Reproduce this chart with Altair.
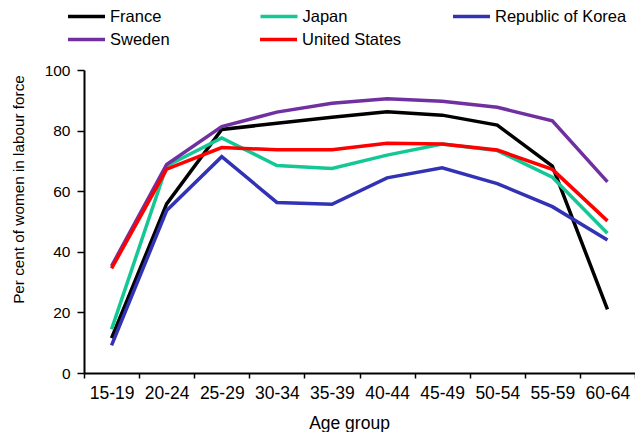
import altair as alt
import pandas as pd

ages = ["15-19", "20-24", "25-29", "30-34", "35-39", "40-44", "45-49", "50-54", "55-59", "60-64"]
row1_names = ["France", "Japan", "Republic of Korea"]
row2_names = ["Sweden", "United States"]
row1_colors = ["#000000", "#14C896", "#3232B4"]
row2_colors = ["#7030A0", "#FF0000"]

france = [11.5, 55.8, 80.4, 82.4, 84.4, 86.2, 85.1, 81.8, 68.3, 21.0]
japan = [14.4, 68.3, 77.6, 68.5, 67.5, 71.9, 75.6, 73.4, 64.6, 46.1]
korea = [9.1, 53.6, 71.4, 56.3, 55.7, 64.4, 67.7, 62.5, 54.9, 43.9]
sweden = [35.3, 68.8, 81.3, 86.1, 89.0, 90.5, 89.7, 87.7, 83.2, 63.1]
usa = [34.5, 67.3, 74.4, 73.7, 73.7, 75.8, 75.6, 73.6, 67.2, 50.2]

series = {"France": france, "Japan": japan, "Republic of Korea": korea,
          "Sweden": sweden, "United States": usa}
rows = []
for name, vals in series.items():
    for a, v in zip(ages, vals):
        rows.append({"Age": a, "Country": name, "Value": v})
df = pd.DataFrame(rows)

FONT = "Liberation Sans"

x_enc = alt.X("Age:N", sort=ages,
              scale=alt.Scale(paddingInner=0, paddingOuter=0),
              axis=alt.Axis(title="Age group", labelAngle=0, tickBand="extent",
                            labelFontSize=17.5, titleFontSize=17.5, titleFontWeight="normal",
                            titleX=265, titleY=55, titleBaseline="alphabetic",
                            labelPadding=6, tickSize=5))
y_enc = alt.Y("Value:Q", scale=alt.Scale(domain=[0, 100]),
              axis=alt.Axis(title="Per cent of women in labour force", values=[0, 20, 40, 60, 80, 100],
                            labelFontSize=15.5, titleFontSize=15.3, titleFontWeight="normal",
                            titleX=-65.5, titleY=119, titleBaseline="middle", titleAngle=270,
                            labelPadding=7, tickSize=7, grid=False))

def legend(y, pad):
    return alt.Legend(title=None, orient="none", legendX=-18, legendY=y,
                      columns=3, gridAlign="all", columnPadding=pad,
                      direction="horizontal",
                      symbolType="stroke", symbolSize=1369, symbolStrokeWidth=3.5,
                      labelFontSize=16.5, labelOffset=3, labelLimit=300)

base = alt.Chart(df).mark_line(strokeWidth=3.5, strokeJoin="miter")

layer1 = base.transform_filter(
    alt.FieldOneOfPredicate(field="Country", oneOf=row1_names)
).encode(
    x=x_enc, y=y_enc,
    color=alt.Color("Country:N", sort=row1_names,
                    scale=alt.Scale(domain=row1_names, range=row1_colors),
                    legend=legend(-74, 11.5)),
)

layer2 = base.transform_filter(
    alt.FieldOneOfPredicate(field="Country", oneOf=row2_names)
).encode(
    x=x_enc, y=y_enc,
    color=alt.Color("Country2:N", sort=row2_names,
                    scale=alt.Scale(domain=row2_names, range=row2_colors),
                    legend=legend(-51, 43)),
).transform_calculate(Country2="datum.Country")

chart = alt.layer(layer1, layer2).resolve_scale(color="independent").properties(
    width=551, height=303,
    autosize=alt.AutoSizeParams(type="none"),
    padding={"left": 76, "top": 62, "right": 0, "bottom": 59},
).configure_view(
    stroke=None
).configure_axis(
    domainColor="black", domainWidth=2, tickColor="black", tickWidth=1.5,
    labelColor="black", titleColor="black", labelFont=FONT, titleFont=FONT, grid=False
).configure_legend(
    labelFont=FONT, labelColor="black"
)

chart.save("out.html", embed_options={"renderer": "svg", "actions": False})
